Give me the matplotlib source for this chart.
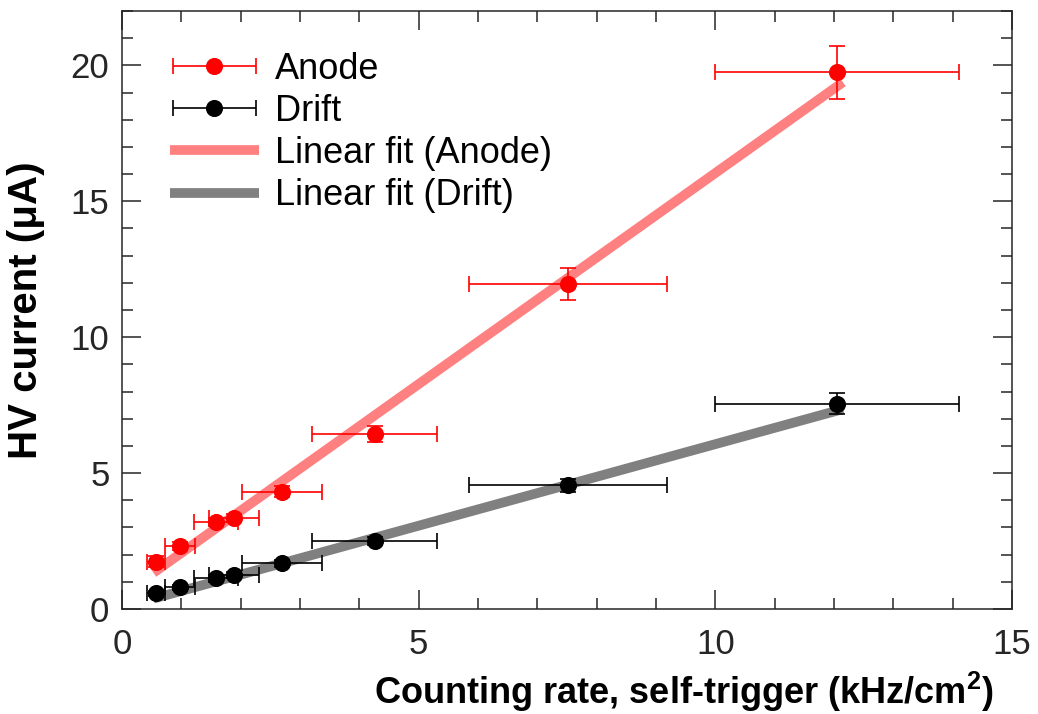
import numpy as np
import matplotlib
matplotlib.use("Agg")
import matplotlib.pyplot as plt
from matplotlib.ticker import MultipleLocator
from matplotlib.legend_handler import HandlerErrorbar

plt.rcParams['font.family'] = ['Liberation Sans', 'DejaVu Sans']
plt.rcParams['mathtext.fontset'] = 'custom'
plt.rcParams['mathtext.bf'] = 'Liberation Sans:bold'
plt.rcParams['mathtext.rm'] = 'Liberation Sans'

# counting rate (kHz/cm2) and its uncertainty
rate = [0.58, 0.98, 1.59, 1.89, 2.70, 4.26, 7.51, 12.05]
rate_err = [0.15, 0.25, 0.37, 0.42, 0.67, 1.05, 1.67, 2.05]

# HV currents (uA)
anode = [1.74, 2.32, 3.20, 3.36, 4.31, 6.45, 11.96, 19.74]
anode_err = [0.20, 0.15, 0.15, 0.15, 0.20, 0.30, 0.58, 0.98]
drift = [0.58, 0.80, 1.16, 1.25, 1.68, 2.51, 4.55, 7.56]
drift_err = [0.10, 0.10, 0.10, 0.10, 0.12, 0.15, 0.25, 0.38]

# linear fit parameters (slope, intercept)
fit_anode = (1.553, 0.51)
fit_drift = (0.600, 0.066)

fig = plt.figure(figsize=(10.38, 7.14), dpi=100)
ax = fig.add_axes([0.1175, 0.147, 0.8575, 0.8376])

xf = np.array([rate[0] - 0.05, rate[-1] + 0.1])
fa, = ax.plot(xf, fit_anode[0] * xf + fit_anode[1], color='#ff8080', lw=7,
              zorder=1, solid_capstyle='butt', label='Linear fit (Anode)')
fd, = ax.plot(xf, fit_drift[0] * xf + fit_drift[1], color='#808080', lw=7,
              zorder=1, solid_capstyle='butt', label='Linear fit (Drift)')

eb = dict(ms=11.3, elinewidth=1.2, capsize=5.5, capthick=1.2, zorder=3)
ea = ax.errorbar(rate, anode, xerr=rate_err, fmt='o', color='red', label='Anode', **eb)
ax.errorbar(rate, anode, yerr=anode_err, fmt='none', ecolor='red', **eb)
ed = ax.errorbar(rate, drift, xerr=rate_err, fmt='o', color='black', label='Drift', **eb)
ax.errorbar(rate, drift, yerr=drift_err, fmt='none', ecolor='black', **eb)

ax.set_xlim(0, 15)
ax.set_ylim(0, 22)
ax.xaxis.set_major_locator(MultipleLocator(5))
ax.xaxis.set_minor_locator(MultipleLocator(1))
ax.yaxis.set_major_locator(MultipleLocator(5))
ax.yaxis.set_minor_locator(MultipleLocator(1))
ax.tick_params(which='both', direction='in', top=True, right=True,
               color='#262626', width=1.1, labelsize=25, labelcolor='#262626')
ax.tick_params(which='major', length=13.5)
ax.tick_params(which='minor', length=8)
ax.tick_params(axis='x', pad=14)
ax.tick_params(axis='y', pad=9)
for s in ax.spines.values():
    s.set_linewidth(1.1)
    s.set_color('#262626')

ax.set_xlabel(r'Counting rate, self-trigger (kHz/cm$^{\mathbf{2}}$)', ha='right',
              va='baseline', fontsize=26, fontweight='bold')
ax.xaxis.set_label_coords(0.979, -0.158)
ax.set_ylabel('HV current (μA)', fontsize=29, fontweight='bold')
ax.yaxis.set_label_coords(-0.087, 0.5)

herr = HandlerErrorbar(xerr_size=1.15)
ax.legend([ea, ed, fa, fd],
          ['Anode', 'Drift', 'Linear fit (Anode)', 'Linear fit (Drift)'],
          loc='upper left', frameon=False, fontsize=26, handlelength=2.45,
          handletextpad=0.45, labelspacing=0.2, borderpad=0, borderaxespad=0,
          bbox_to_anchor=(0.054, 0.932), handler_map={ea: herr, ed: herr})

fig.savefig('out.png', dpi=100)
